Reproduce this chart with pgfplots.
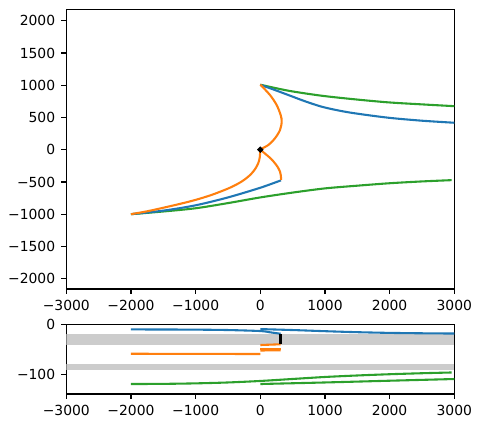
\documentclass[border=0pt]{standalone}
\usepackage{pgfplots}
\pgfplotsset{compat=1.18}
\usepackage{fontspec}
\setmainfont{DejaVu Sans}
\definecolor{tabblue}{HTML}{1F77B4}
\definecolor{taborange}{HTML}{FF7F0E}
\definecolor{tabgreen}{HTML}{2CA02C}
\definecolor{bandgray}{HTML}{CCCCCC}
\pgfplotsset{
  mpl/.style={
    scale only axis,
    width=279.36bp,
    xmin=-3000, xmax=3000,
    xtick={-3000,-2000,-1000,0,1000,2000,3000},
    xticklabels={−3000,−2000,−1000,0,1000,2000,3000},
    tick pos=left,
    tick align=outside,
    major tick length=3.5bp,
    every tick/.style={black, line width=0.8bp},
    axis line style={line width=0.8bp},
    tick label style={font=\fontsize{10bp}{12bp}\selectfont},
    xticklabel style={yshift=-1bp},
    yticklabel style={xshift=-1bp},
    every axis plot/.append style={line width=1.5bp},
  }
}
\begin{document}
\begin{tikzpicture}
\path[use as bounding box] (-47.74bp,-100.08bp) rectangle (298.58bp,208.08bp);
\begin{axis}[mpl,
  at={(0bp,0bp)}, anchor=south west,
  height=201.38bp,
  ymin=-2160, ymax=2177,
  ytick={-2000,-1500,-1000,-500,0,500,1000,1500,2000},
  yticklabels={−2000,−1500,−1000,−500,0,500,1000,1500,2000},
]
% green lower
\addplot[tabgreen, smooth, tension=0.5] coordinates {(-2000,-1000) (-1500,-958) (-1000,-908) (-500,-828) (0,-740) (500,-665) (1000,-600) (1500,-558) (2000,-520) (2500,-492) (2959,-472)};
% green upper
\addplot[tabgreen, smooth, tension=0.5] coordinates {(0,1008) (433,915) (949,837) (1464,781) (1979,734) (2495,703) (3000,675)};
% blue lower
\addplot[tabblue, smooth, tension=0.5] coordinates {(-2000,-1000) (-1500,-945) (-1000,-862) (-500,-740) (0,-590) (320,-475)};
% blue upper
\addplot[tabblue, smooth, tension=0.5] coordinates {(0,1005) (200,935) (433,848) (700,748) (949,667) (1200,610) (1464,564) (1979,496) (2495,450) (3000,418)};
% orange main
\addplot[taborange, smooth, tension=0.5] coordinates {(-2000,-1000) (-1750,-955) (-1500,-900) (-1250,-842) (-1000,-778) (-750,-700) (-500,-603) (-350,-530) (-250,-468) (-150,-385) (-80,-300) (-30,-205) (-8,-115) (0,0)};
% orange lower arc
\addplot[taborange, smooth, tension=0.5] coordinates {(0,0) (99,-82) (170,-145) (227,-211) (270,-270) (305,-341) (318,-400) (322,-470)};
% orange upper arc
\addplot[taborange, smooth, tension=0.5] coordinates {(0,1010) (150,848) (253,693) (315,538) (331,434) (305,305) (227,177) (124,73) (0,5)};
% origin dot
\addplot[only marks, mark=*, mark size=1.3bp, black] coordinates {(0,0)};
\end{axis}
\begin{axis}[mpl,
  at={(0bp,-75.6bp)}, anchor=south west,
  height=50.33bp,
  ymin=-138.6, ymax=1.4,
  ytick={-100,0},
  yticklabels={−100,0},
]
\addplot[fill=bandgray, draw=none, line width=0pt] coordinates {(-3000,-18) (3000,-18) (3000,-40.6) (-3000,-40.6)} -- cycle;
\addplot[fill=bandgray, draw=none, line width=0pt] coordinates {(-3000,-78) (3000,-78) (3000,-91.3) (-3000,-91.3)} -- cycle;
% blue
\addplot[tabblue, smooth, tension=0.5] coordinates {(-2000,-9.3) (-1500,-9.4) (-1000,-9.7) (-500,-10.5) (0,-12.5) (150,-15) (315,-18)};
\addplot[tabblue, smooth, tension=0.5] coordinates {(0,-8.6) (500,-10.5) (1000,-12.8) (1500,-14.8) (2000,-16.2) (2500,-17) (3000,-17.5)};
% orange
\addplot[taborange] coordinates {(-2000,-58) (0,-58.5)};
\addplot[taborange] coordinates {(0,-40.5) (315,-39)};
\addplot[taborange] coordinates {(0,-48.5) (315,-48.5)};
\addplot[taborange] coordinates {(0,-51.5) (315,-51)};
% green
\addplot[tabgreen, smooth, tension=0.5] coordinates {(-2000,-118.6) (-1500,-118.3) (-1000,-117.3) (-500,-115.5) (0,-112.5) (500,-108.5) (1000,-104.5) (1500,-101.5) (2000,-99) (2500,-97) (2959,-95.5)};
\addplot[tabgreen, smooth, tension=0.5] coordinates {(0,-118.6) (1000,-115.5) (2000,-112) (3000,-108.6)};
% black bar
\addplot[black, line width=2bp] coordinates {(315,-18) (315,-38)};
\end{axis}
\end{tikzpicture}
\end{document}
